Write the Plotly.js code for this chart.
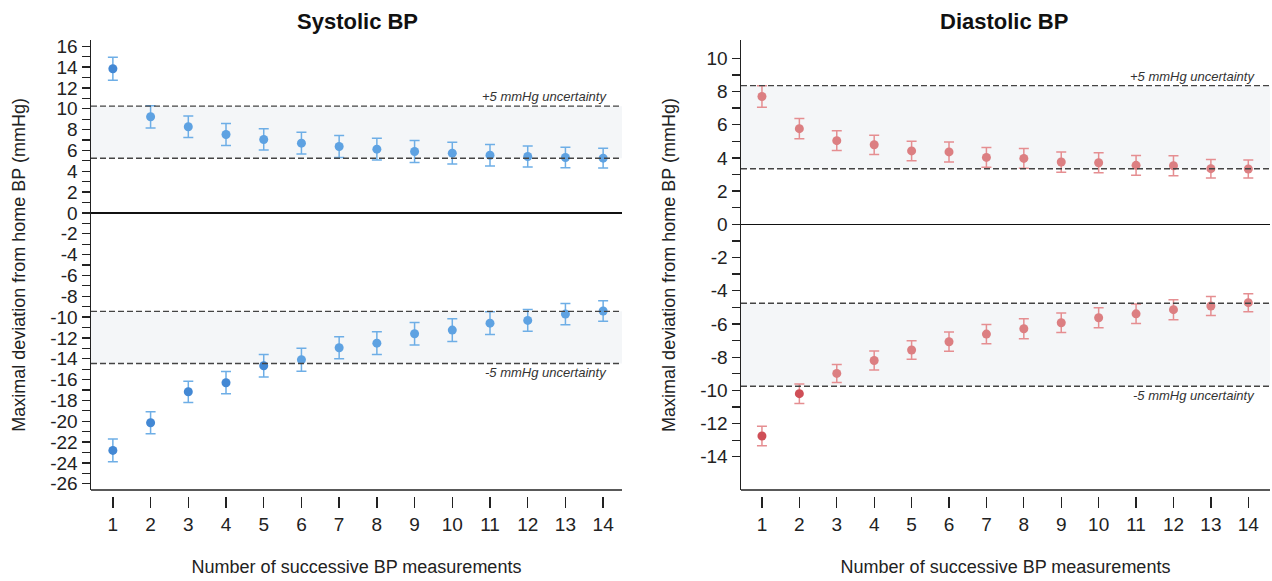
<!DOCTYPE html>
<html>
<head>
<meta charset="utf-8">
<script src="https://cdn.plot.ly/plotly-3.0.1.min.js"></script>
<style>html,body{margin:0;padding:0;background:#fff;}#chart{width:1272px;height:581px;}</style>
</head>
<body>
<div id="chart"></div>
<script>
// ---- data ----
const measurements = [1,2,3,4,5,6,7,8,9,10,11,12,13,14];

const sysUpper = [13.84,9.23,8.27,7.53,7.05,6.70,6.38,6.12,5.90,5.74,5.54,5.42,5.32,5.26];
const sysUpperErr = [1.10,1.07,1.04,1.05,1.02,1.04,1.06,1.04,1.05,1.05,1.03,1.01,0.98,0.95];
const sysLower = [-22.80,-20.14,-17.17,-16.30,-14.67,-14.10,-12.94,-12.50,-11.60,-11.25,-10.58,-10.32,-9.71,-9.42];
const sysLowerErr = [1.09,1.05,1.02,1.07,1.07,1.10,1.05,1.09,1.08,1.09,1.09,1.05,1.02,0.99];

const diaUpper = [7.70,5.76,5.04,4.79,4.42,4.36,4.03,3.97,3.75,3.71,3.55,3.53,3.35,3.33];
const diaUpperErr = [0.65,0.61,0.59,0.58,0.59,0.60,0.60,0.60,0.61,0.60,0.60,0.60,0.56,0.54];
const diaLower = [-12.75,-10.20,-8.98,-8.20,-7.57,-7.07,-6.61,-6.29,-5.93,-5.63,-5.39,-5.14,-4.92,-4.72];
const diaLowerErr = [0.59,0.59,0.54,0.57,0.56,0.58,0.58,0.60,0.59,0.60,0.59,0.60,0.57,0.54];

// uncertainty bands [bottom, top]
const sysBandUpper = [5.25, 10.25];
const sysBandLower = [-14.45, -9.45];
const diaBandUpper = [3.35, 8.35];
const diaBandLower = [-9.75, -4.75];

const sysTicks = [16,14,12,10,8,6,4,2,0,-2,-4,-6,-8,-10,-12,-14,-16,-18,-20,-22,-24,-26];
const sysMinorTicks = [15,13,11,9,7,5,3,1,-1,-3,-5,-7,-9,-11,-13,-15,-17,-19,-21,-23,-25];
const diaTicks = [10,8,6,4,2,0,-2,-4,-6,-8,-10,-12,-14];
const diaMinorTicks = [9,7,5,3,1,-1,-3,-5,-7,-9,-11,-13];

// ---- styling ----
const FONT = 'Liberation Sans, Arial, sans-serif';
const blueDark = '#4388d4', blueLight = '#5ea2e2', blueErr = '#6eaee6';
const redDark = '#cf4f57', redLight = '#dc7f82', redErr = '#e58e91';

function colorsFor(vals, band, dark, light){
  return vals.map(v => (v > band[1] + 0.05 || v < band[0] - 0.05) ? dark : light);
}

function series(vals, errs, band, xa, ya, dark, light, errCol){
  return {
    type:'scatter', mode:'markers', x: measurements, y: vals,
    xaxis: xa, yaxis: ya,
    marker:{size:9, color: colorsFor(vals, band, dark, light)},
    error_y:{type:'data', array: errs, visible:true, color: errCol, thickness:1.5, width:5},
    hoverinfo:'x+y', showlegend:false, cliponaxis:false
  };
}

const traces = [
  series(sysUpper, sysUpperErr, sysBandUpper, 'x', 'y', blueDark, blueLight, blueErr),
  series(sysLower, sysLowerErr, sysBandLower, 'x', 'y', blueDark, blueLight, blueErr),
  series(diaUpper, diaUpperErr, diaBandUpper, 'x2', 'y2', redDark, redLight, redErr),
  series(diaLower, diaLowerErr, diaBandLower, 'x2', 'y2', redDark, redLight, redErr)
];

const W = 1272, H = 581;
const plotTop = 40, plotBottom = 490;
const yDom = [1 - plotBottom/H, 1 - plotTop/H];
const tickPos = 1 - 496/H;
const leftDom = [91/W, 622/W];
const rightDom = [741/W, 1270/W];

function bandShapes(band, xref, yref){
  return [
    {type:'rect', xref: xref+' domain', yref: yref, x0:0, x1:1, y0:band[0], y1:band[1],
     fillcolor:'#f4f6f8', line:{width:0}, layer:'below'},
    {type:'line', xref: xref+' domain', yref: yref, x0:0, x1:1, y0:band[0], y1:band[0],
     line:{color:'#444', width:1.4, dash:'6px,3px'}, layer:'above'},
    {type:'line', xref: xref+' domain', yref: yref, x0:0, x1:1, y0:band[1], y1:band[1],
     line:{color:'#444', width:1.4, dash:'6px,3px'}, layer:'above'}
  ];
}
function baseLine(xref){
  return {type:'line', xref: xref+' domain', yref:'paper', x0:0, x1:1, y0: yDom[0], y1: yDom[0],
          line:{color:'#222', width:1.5}, layer:'above'};
}

const tickFont = {family: FONT, size: 19, color:'#222'};
const titleFont = {family: FONT, size: 18, color:'#222'};

function yAxis(range, ticks, minor, anchor){
  return {
    anchor: anchor, domain: yDom, range: range, autorange:false,
    showline:true, linecolor:'#222', linewidth:1.5,
    ticks:'outside', ticklen:8, tickwidth:1.3, tickcolor:'#222',
    tickmode:'array', tickvals: ticks, ticktext: ticks.map(String),
    minor:{tickmode:'array', tickvals: minor, ticks:'outside', ticklen:8, tickwidth:1.3, tickcolor:'#222'},
    showgrid:false, zeroline:true, zerolinecolor:'#111', zerolinewidth:1.3,
    tickfont: tickFont,
    title:{text:'Maximal deviation from home BP (mmHg)', font: titleFont, standoff: 20},
    automargin:false
  };
}

function xAxis(domain, range){
  return {
    anchor:'free', position: tickPos, domain: domain,
    range: range, autorange:false,
    showline:false, ticks:'outside', ticklen:11, tickwidth:1.3, tickcolor:'#222',
    tickmode:'array', tickvals: measurements, ticktext: measurements.map(String),
    tickfont: tickFont, showgrid:false, zeroline:false,
    title:{text:'Number of successive BP measurements', font: titleFont, standoff: 26},
    automargin:false
  };
}

const sysXRange = [0.42, 14.5];
const diaXRange = [0.44, 14.58];

function bandLabels(upperBand, lowerBand, xref, yref){
  const f = {family: FONT, size: 13, color:'#333'};
  return [
    {xref: xref+' domain', yref: yref, x:0.975, y: upperBand[1], xanchor:'right', yanchor:'bottom',
     text:'<i>+5 mmHg uncertainty</i>', showarrow:false, font:f},
    {xref: xref+' domain', yref: yref, x:0.975, y: lowerBand[0], xanchor:'right', yanchor:'top',
     text:'<i>-5 mmHg uncertainty</i>', showarrow:false, font:f}
  ];
}

const layout = {
  width: W, height: H,
  margin:{l:0, r:0, t:0, b:0},
  paper_bgcolor:'#fff', plot_bgcolor:'#fff',
  showlegend:false,
  font:{family: FONT, color:'#222'},
  xaxis: xAxis(leftDom, sysXRange),
  yaxis: yAxis([-26.6, 16.6], sysTicks, sysMinorTicks, 'x'),
  xaxis2: xAxis(rightDom, diaXRange),
  yaxis2: yAxis([-16.0, 11.1], diaTicks, diaMinorTicks, 'x2'),
  shapes: [].concat(
    bandShapes(sysBandUpper, 'x', 'y'), bandShapes(sysBandLower, 'x', 'y'),
    bandShapes(diaBandUpper, 'x2', 'y2'), bandShapes(diaBandLower, 'x2', 'y2'),
    [baseLine('x'), baseLine('x2')]
  ),
  annotations: [].concat(
    [{xref:'paper', yref:'paper', x: 357/W, y: 1 - 22/H, xanchor:'center', yanchor:'middle',
      text:'<b>Systolic BP</b>', showarrow:false, font:{family: FONT, size:22, color:'#111'}},
     {xref:'paper', yref:'paper', x: 1004/W, y: 1 - 22/H, xanchor:'center', yanchor:'middle',
      text:'<b>Diastolic BP</b>', showarrow:false, font:{family: FONT, size:22, color:'#111'}}],
    bandLabels(sysBandUpper, sysBandLower, 'x', 'y'),
    bandLabels(diaBandUpper, diaBandLower, 'x2', 'y2')
  )
};

Plotly.newPlot('chart', traces, layout, {displayModeBar:false, staticPlot:true});
</script>
</body>
</html>
